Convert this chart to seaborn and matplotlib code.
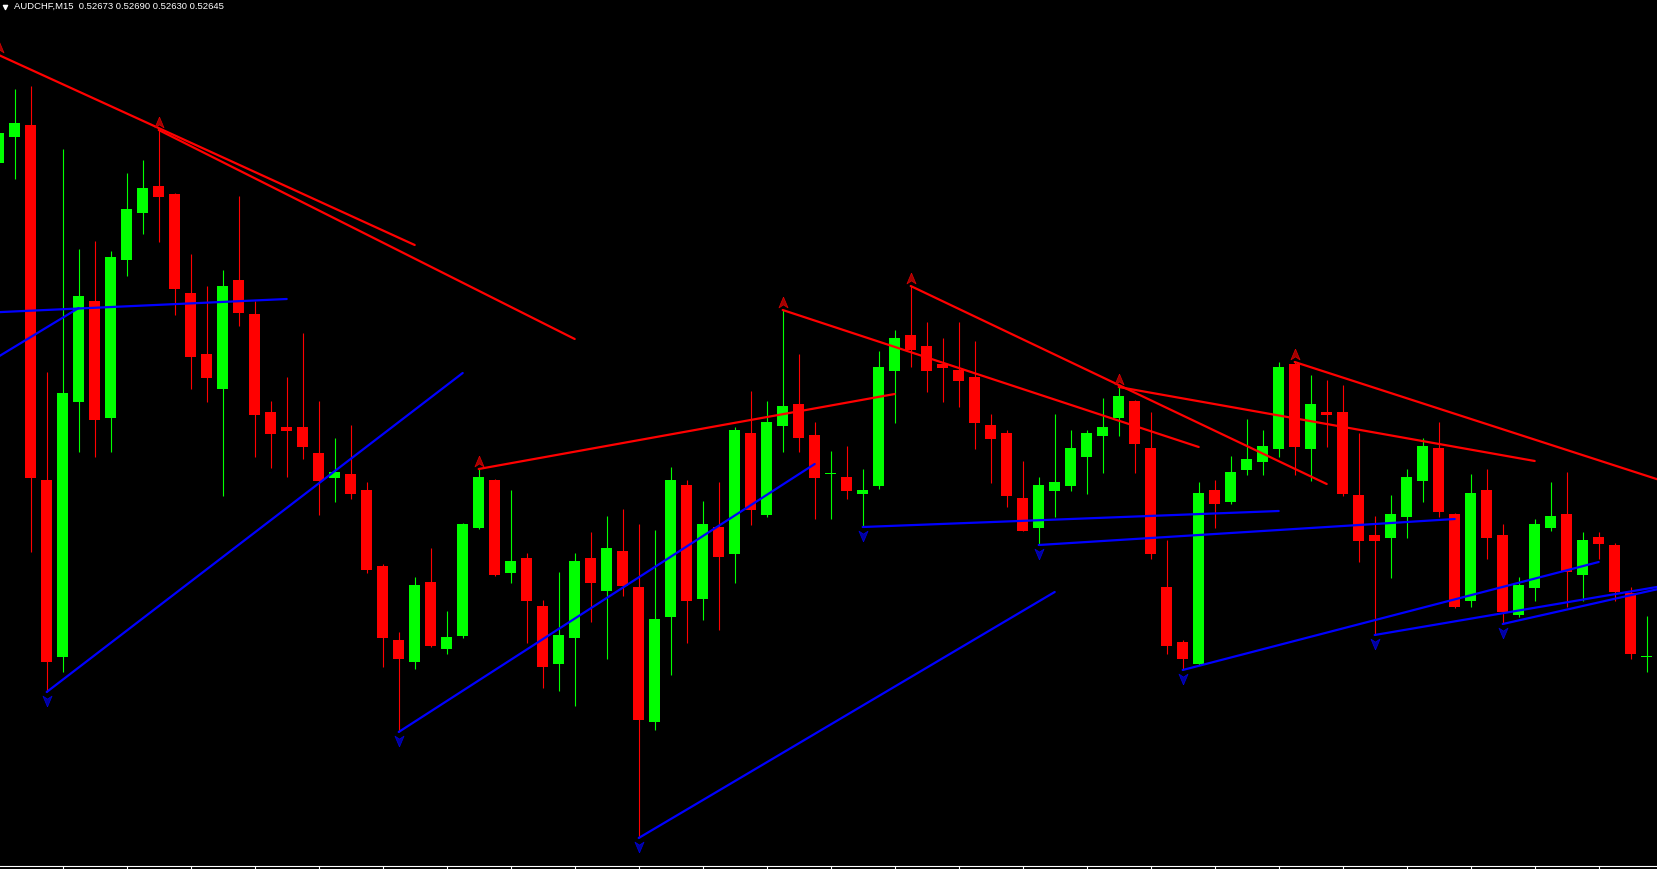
import numpy as np
import pandas as pd
import matplotlib
matplotlib.use("Agg")
import matplotlib.pyplot as plt
import seaborn as sns

# ---------------- data (prices in 1e-5 units, i.e. points) ----------------
title_text = "AUDCHF,M15  0.52673 0.52690 0.52630 0.52645"

open_pts = [53139, 53165, 53177, 52822, 52645, 52900, 53001, 52884, 53042, 53089,
            53116, 53108, 53009, 52948, 52913, 53022, 52988, 52890, 52875, 52875,
            52849, 52824, 52828, 52812, 52736, 52662, 52640, 52720, 52653, 52666,
            52774, 52822, 52729, 52744, 52696, 52638, 52664, 52744, 52711, 52751,
            52715, 52580, 52685, 52817, 52703, 52775, 52748, 52869, 52787, 52876,
            52898, 52867, 52828, 52825, 52808, 52816, 52931, 52967, 52956, 52938,
            52932, 52925, 52877, 52869, 52804, 52774, 52811, 52816, 52845, 52866,
            52884, 52901, 52854, 52715, 52660, 52638, 52812, 52800, 52832, 52840,
            52853, 52938, 52853, 52890, 52890, 52807, 52767, 52764, 52785, 52821,
            52854, 52788, 52701, 52812, 52767, 52687, 52714, 52774, 52788, 52727,
            52765, 52757, 52709, 52645]

high_pts = [53247, 53213, 53216, 52930, 53153, 53053, 53061, 53051, 53129, 53142,
            53172, 53109, 53048, 53016, 53032, 53106, 53001, 52901, 52925, 52969,
            52901, 52864, 52877, 52820, 52738, 52670, 52725, 52754, 52691, 52779,
            52833, 52823, 52812, 52749, 52702, 52730, 52749, 52770, 52786, 52793,
            52778, 52772, 52835, 52822, 52801, 52820, 52875, 52911, 52901, 52992,
            52948, 52880, 52851, 52856, 52833, 52951, 52972, 53016, 52980, 52964,
            52980, 52961, 52888, 52872, 52841, 52825, 52888, 52872, 52872, 52904,
            52915, 52902, 52890, 52762, 52662, 52820, 52822, 52846, 52883, 52872,
            52940, 52940, 52927, 52922, 52917, 52869, 52786, 52807, 52833, 52864,
            52880, 52789, 52828, 52833, 52778, 52725, 52783, 52820, 52830, 52770,
            52770, 52759, 52715, 52686]

low_pts = [53127, 53123, 52750, 52610, 52630, 52850, 52845, 52850, 53026, 53068,
           53060, 52987, 52913, 52900, 52806, 52976, 52845, 52834, 52825, 52843,
           52787, 52800, 52803, 52729, 52635, 52570, 52633, 52655, 52648, 52664,
           52773, 52726, 52719, 52659, 52614, 52611, 52596, 52680, 52643, 52706,
           52464, 52572, 52627, 52659, 52682, 52672, 52719, 52777, 52785, 52850,
           52850, 52783, 52783, 52803, 52775, 52813, 52879, 52935, 52910, 52900,
           52895, 52853, 52819, 52795, 52771, 52757, 52785, 52811, 52808, 52829,
           52866, 52829, 52743, 52648, 52632, 52637, 52774, 52798, 52827, 52827,
           52845, 52827, 52821, 52855, 52806, 52740, 52667, 52724, 52764, 52800,
           52785, 52694, 52695, 52743, 52678, 52685, 52701, 52771, 52695, 52701,
           52743, 52701, 52643, 52630]

close_pts = [53169, 53179, 52824, 52640, 52909, 53006, 52882, 53045, 53093, 53114,
             53105, 53013, 52945, 52924, 53016, 52989, 52887, 52868, 52871, 52855,
             52821, 52830, 52808, 52732, 52664, 52643, 52717, 52656, 52665, 52778,
             52825, 52727, 52741, 52701, 52635, 52667, 52741, 52719, 52754, 52716,
             52582, 52683, 52822, 52701, 52778, 52745, 52872, 52792, 52880, 52896,
             52864, 52824, 52828, 52811, 52812, 52935, 52964, 52952, 52931, 52934,
             52921, 52879, 52863, 52806, 52771, 52817, 52820, 52854, 52869, 52875,
             52906, 52858, 52748, 52656, 52643, 52809, 52798, 52830, 52843, 52856,
             52935, 52855, 52898, 52887, 52808, 52761, 52761, 52788, 52825, 52856,
             52790, 52695, 52809, 52764, 52690, 52717, 52778, 52786, 52730, 52762,
             52758, 52710, 52648, 52645]

# resistance trend lines (red): start bar/price -> end bar/price
res_start_bar = [0, 10, 30, 49, 57, 70, 81]
res_start_pts = [53247, 53172, 52833, 52992, 53016, 52915, 52940]
res_end_bar = [26, 36, 56, 75, 83, 96, 104]
res_end_pts = [53057, 52963, 52908, 52855, 52818, 52841, 52821]

# support trend lines (blue)
sup_start_bar = [-8, -21, 3, 25, 40, 54, 65, 74, 86, 94]
sup_start_pts = [52984, 52742, 52610, 52570, 52464, 52775, 52757, 52632, 52667, 52678]
sup_end_bar = [18, 5, 29, 51, 66, 80, 91, 100, 104, 104]
sup_end_pts = [53003, 52994, 52929, 52838, 52710, 52791, 52783, 52740, 52716, 52714]

# fractal arrows
up_arrow_bars = [0, 10, 30, 49, 57, 70, 81]
down_arrow_bars = [3, 25, 40, 54, 65, 74, 86, 94]

# ---------------- build ----------------
scale = 1e5
o = np.array(open_pts) / scale
h = np.array(high_pts) / scale
l = np.array(low_pts) / scale
c = np.array(close_pts) / scale
idx = np.arange(len(o))

GREEN = "#00ff00"
RED = "#ff0000"
BLUE = "#0000ff"

sns.set_theme(style="dark", rc={"axes.facecolor": "black",
                                "figure.facecolor": "black",
                                "axes.grid": False})
plt.rcParams["font.family"] = ["Liberation Sans", "DejaVu Sans"]

W, H = 1657, 869
fig = plt.figure(figsize=(W / 100, H / 100), dpi=100)
ax = fig.add_axes([0, 3 / H, 1, 866 / H])
ax.set_facecolor("black")

colors = np.where(c >= o, GREEN, RED)

# wicks
ax.vlines(idx, l, h, colors=colors, linewidth=0.8, zorder=2)
# bodies
body_bottom = np.minimum(o, c)
body_height = np.maximum(np.abs(c - o), 1.2 / scale)
ax.bar(idx, body_height, bottom=body_bottom, width=0.69, color=colors,
       linewidth=0, zorder=3)

# trend lines via seaborn
rows = []
for i, (sb, sp, eb, ep) in enumerate(zip(res_start_bar, res_start_pts, res_end_bar, res_end_pts)):
    rows.append(dict(line=f"r{i}", kind="res", bar=sb, price=sp / scale))
    rows.append(dict(line=f"r{i}", kind="res", bar=eb, price=ep / scale))
for i, (sb, sp, eb, ep) in enumerate(zip(sup_start_bar, sup_start_pts, sup_end_bar, sup_end_pts)):
    rows.append(dict(line=f"s{i}", kind="sup", bar=sb, price=sp / scale))
    rows.append(dict(line=f"s{i}", kind="sup", bar=eb, price=ep / scale))
lines_df = pd.DataFrame(rows)
sns.lineplot(data=lines_df, x="bar", y="price", units="line", hue="kind",
             palette={"res": RED, "sup": BLUE}, estimator=None, sort=False,
             linewidth=1.6, legend=False, ax=ax, zorder=4)

# arrows
up_verts = [(0, 0.5), (0.42, -0.5), (0, -0.22), (-0.42, -0.5), (0, 0.5)]
down_verts = [(x, -y) for x, y in up_verts]
ub = np.array(up_arrow_bars)
db = np.array(down_arrow_bars)
ax.scatter(ub, h[ub] + 8.5 / scale, marker=up_verts, s=60,
           facecolor="#a00000", edgecolor="#e00000", linewidth=0.5, zorder=5)
ax.scatter(db, l[db] - 9 / scale, marker=down_verts, s=60,
           facecolor="#0000a0", edgecolor="#0000e0", linewidth=0.5, zorder=5)

# axes
ax.set_xlim(1.3 / 16, (W + 1.3) / 16)
ax.set_ylim(52436 / scale, 53302 / scale)
for s in ["top", "left", "right"]:
    ax.spines[s].set_visible(False)
ax.spines["bottom"].set_visible(True)
ax.spines["bottom"].set_color("white")
ax.spines["bottom"].set_linewidth(0.8)
ax.set_xticks(np.arange(4, 104, 4))
ax.set_xticklabels([])
ax.set_yticks([])
ax.tick_params(axis="x", colors="white", length=2.5, width=0.8, direction="out",
               bottom=True)
ax.set_xlabel("")
ax.set_ylabel("")

# title
ax.scatter([4.5 / W], [1 - 6.5 / 866], marker="v", s=9, color="white",
           transform=ax.transAxes, clip_on=False, zorder=6)
ax.text(14 / W, 1 - 6.8 / 866, title_text, transform=ax.transAxes,
        ha="left", va="center", fontsize=6.8, color="white",
        family=["Liberation Sans", "DejaVu Sans"])

fig.savefig("out.png", dpi=100, facecolor="black")
